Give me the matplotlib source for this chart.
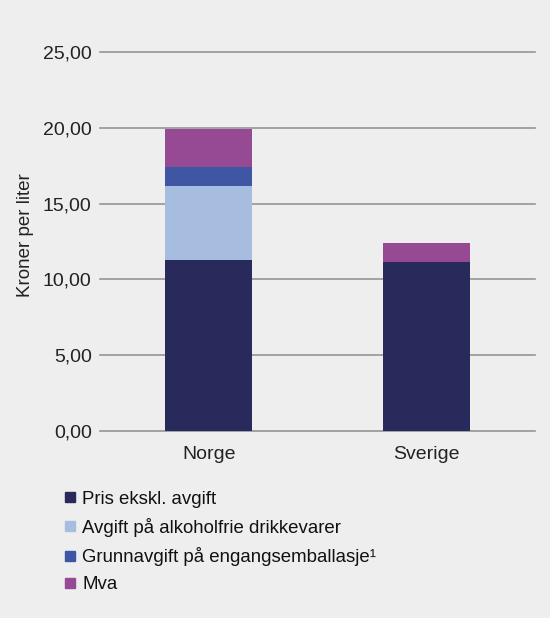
import matplotlib
matplotlib.use('Agg')
import numpy as np
import matplotlib.pyplot as plt
from matplotlib.lines import Line2D

plt.rcParams['font.family'] = ['Liberation Sans', 'DejaVu Sans']

# ── Data ──────────────────────────────────────────────────────────────────────
countries = ['Norge', 'Sverige']
pris = [11.28, 11.13]
avgift_alkoholfri = [4.86, 0.0]
grunnavgift = [1.28, 0.0]
mva = [2.48, 1.28]

series_labels = ['Pris ekskl. avgift', 'Avgift på alkoholfrie drikkevarer',
                 'Grunnavgift på engangsemballasje¹', 'Mva']
colors = ['#272a5a', '#a7bde0', '#3f56a5', '#954a93']
yticks = [0, 5, 10, 15, 20, 25]

BG = '#eeeeee'

# ── Plot ──────────────────────────────────────────────────────────────────────
fig = plt.figure(figsize=(5.5, 6.18), dpi=100, facecolor=BG)
ax = fig.add_axes([0.1818, 0.3031, 0.7909, 0.6123], facecolor=BG)

x = np.arange(len(countries))
bottom = np.zeros(len(countries))
for vals, c in zip([pris, avgift_alkoholfri, grunnavgift, mva], colors):
    vals = np.array(vals)
    ax.bar(x, vals, 0.4, bottom=bottom, color=c, zorder=3)
    bottom += vals

ax.set_xlim(-0.5, 1.5)
ax.set_ylim(0, 25)
ax.set_yticks(yticks)
ax.set_yticklabels([f'{v:.2f}'.replace('.', ',') for v in yticks], fontsize=14, color='#222222')
ax.set_xticks(x)
ax.set_xticklabels(countries, fontsize=14, color='#222222')
ax.tick_params(axis='both', length=0)
ax.tick_params(axis='y', pad=6)
ax.tick_params(axis='x', pad=11)
ax.grid(axis='y', color='#959595', linewidth=1.2, zorder=0, clip_on=False)
for s in ax.spines.values():
    s.set_visible(False)
ax.set_ylabel('Kroner per liter', fontsize=13.5, color='#222222')
ax.yaxis.set_label_coords(-0.152, 0.517)

handles = [Line2D([], [], marker='s', linestyle='none', markersize=6.5,
                  markerfacecolor=c, markeredgecolor=c) for c in colors]
fig.legend(handles, series_labels, loc='upper left', bbox_to_anchor=(0.104, 0.218),
           frameon=False, fontsize=13.4, handlelength=0.6, handletextpad=0.35,
           labelspacing=0.55, borderaxespad=0, labelcolor='#111111')

plt.savefig('out.png', dpi=100, facecolor=BG)
